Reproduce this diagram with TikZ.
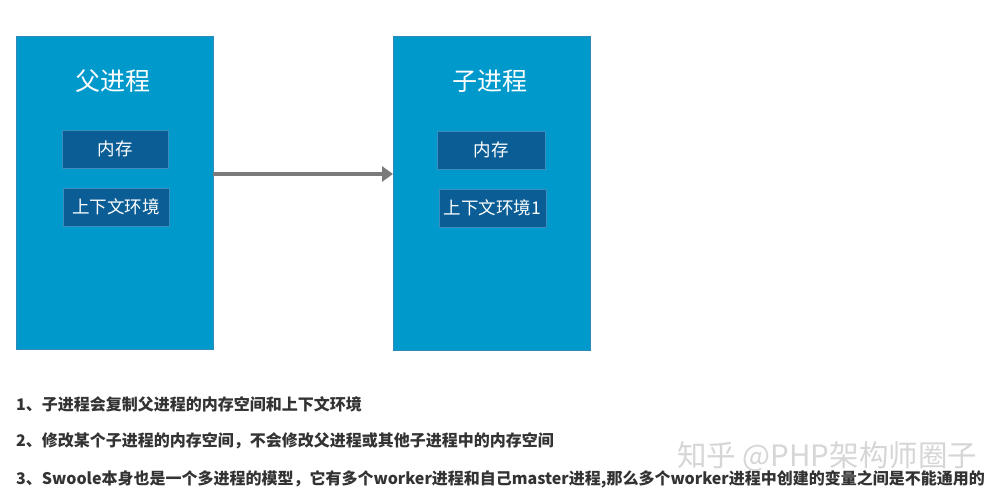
\documentclass[tikz,border=0pt]{standalone}
\usepackage{fontspec}
\newfontfamily\cjk{Noto Sans CJK SC}
\usetikzlibrary{arrows.meta}
\definecolor{procblue}{HTML}{0099CC}
\definecolor{procedge}{HTML}{2E8AB8}
\definecolor{innerblue}{HTML}{0B5E95}
\definecolor{inneredge}{HTML}{3C8EBF}
\definecolor{arrowgray}{HTML}{7A7A7A}
\definecolor{txtgray}{HTML}{333333}
\definecolor{wmgray}{HTML}{D6D6D6}
\tikzset{
  procbox/.style={draw=procedge, fill=procblue, line width=0.8pt},
  innerbox/.style={draw=inneredge, fill=innerblue, line width=0.8pt, text=white, font=\cjk\fontsize{17.5}{20}\selectfont},
  titletext/.style={text=white, font=\cjk\fontsize{25}{28}\selectfont},
  notetext/.style={text=txtgray, anchor=west, font=\cjk\bfseries\fontsize{16}{18}\selectfont, inner sep=0pt},
}
\begin{document}
\begin{tikzpicture}[x=1pt,y=-1pt]
\useasboundingbox (0,0) rectangle (1002,500);
\fill[white] (0,0) rectangle (1002,500);
% process boxes
\draw[procbox] (16,36) rectangle (213,349);
\draw[procbox] (393,36) rectangle (590,350);
\node[titletext] (ptitle) at (113,81) {父进程};
\node[titletext] (ctitle) at (490,81) {子进程};
\node[innerbox, minimum width=106pt, minimum height=38pt, inner sep=0pt] (pmem) at (115,149) {内存};
\node[innerbox, minimum width=106pt, minimum height=38pt, inner sep=0pt] (pctx) at (116,207) {上下文环境};
\node[innerbox, minimum width=108pt, minimum height=38pt, inner sep=0pt] (cmem) at (491,150) {内存};
\node[innerbox, minimum width=107pt, minimum height=38pt, inner sep=0pt] (cctx) at (492.5,208) {上下文环境1};
% arrow
\coordinate (aS) at (213,174);
\coordinate (aE) at (393,174);
\draw[arrowgray, line width=3.5pt, -{Triangle[length=11pt,width=15pt]}] (aS) -- (aE);
% notes
\node[notetext] (n1) at (16,404) {1、子进程会复制父进程的内存空间和上下文环境};
\node[notetext] (n2) at (16,441) {2、修改某个子进程的内存空间，不会修改父进程或其他子进程中的内存空间};
\node[notetext] (n3) at (16,479) {3、Swoole本身也是一个多进程的模型，它有多个worker进程和自己master进程,那么多个worker进程中创建的变量之间是不能通用的};
% watermark
\node[text=wmgray, font=\cjk\fontsize{29.5}{32}\selectfont, anchor=west, inner sep=0pt] (wm) at (677,457) {知乎 @PHP架构师圈子};
\end{tikzpicture}
\end{document}
